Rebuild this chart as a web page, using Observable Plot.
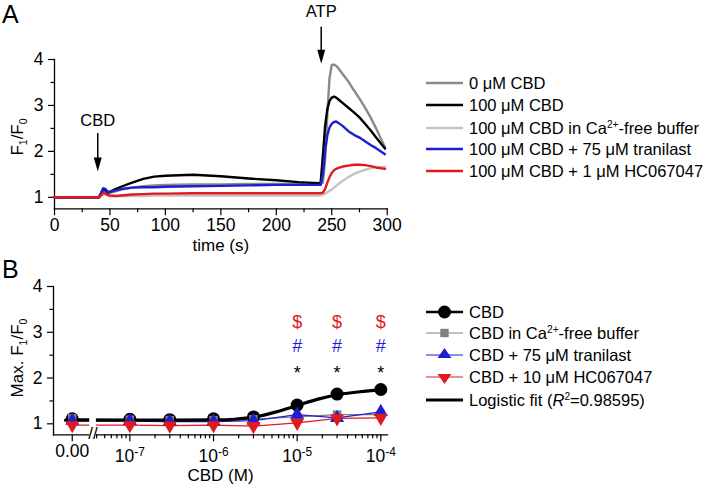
<!DOCTYPE html>
<html><head><meta charset="utf-8">
<script src="https://cdn.jsdelivr.net/npm/d3@7"></script>
<script src="https://cdn.jsdelivr.net/npm/@observablehq/plot@0.6"></script>
<style>
body{margin:0;background:#fff;}
#fig{position:relative;width:709px;height:488px;font-family:'Liberation Sans',Arial,Helvetica,sans-serif;color:#000;overflow:hidden;background:#fff;}
.letter{position:absolute;font-size:25px;line-height:28px;}
.leg{position:absolute;left:426px;font-size:16.5px;line-height:20px;white-space:nowrap;display:flex;align-items:center;height:20px;}
.leg svg{margin-right:6px;flex:none;}
.ytitle{position:absolute;transform:translate(-50%,-50%) rotate(-90deg);font-size:17px;white-space:nowrap;line-height:20px;}
sub,sup{font-size:0.62em;line-height:0;}
</style>
</head><body>
<div id="fig"></div>
<script>
// ---------- Panel A data ----------
const timeS = [0,20,40,42,44,46,48,50,55,60,70,80,90,100,125,150,175,200,220,238,240,242,244,246,248,250,252,254,256,260,265,270,275,280,285,290,298];
const a_cbd0      = [1.00,1.00,1.00,1.06,1.15,1.14,1.10,1.10,1.13,1.17,1.21,1.24,1.26,1.27,1.28,1.28,1.29,1.29,1.29,1.29,1.30,1.32,1.80,2.80,3.60,3.88,3.89,3.86,3.81,3.68,3.52,3.33,3.15,2.95,2.74,2.50,2.09];
const a_cbd100    = [1.00,1.00,1.00,1.08,1.18,1.15,1.10,1.12,1.18,1.23,1.32,1.40,1.45,1.47,1.49,1.46,1.41,1.37,1.33,1.31,1.32,1.90,2.55,2.92,3.10,3.17,3.19,3.17,3.13,3.05,2.95,2.85,2.74,2.60,2.46,2.30,2.06];
const a_caFree    = [1.00,1.00,1.00,1.03,1.07,1.06,1.04,1.03,1.02,1.02,1.03,1.03,1.04,1.04,1.04,1.04,1.04,1.04,1.04,1.04,1.04,1.05,1.08,1.11,1.14,1.17,1.21,1.25,1.29,1.36,1.44,1.51,1.56,1.60,1.63,1.65,1.66];
const a_tranilast = [1.00,1.00,1.00,1.10,1.20,1.18,1.12,1.12,1.15,1.18,1.21,1.22,1.22,1.23,1.24,1.25,1.26,1.27,1.27,1.27,1.27,1.50,2.00,2.35,2.52,2.60,2.64,2.65,2.62,2.55,2.44,2.36,2.30,2.22,2.14,2.07,1.94];
const a_hc        = [1.00,1.00,1.00,1.04,1.10,1.08,1.05,1.04,1.03,1.04,1.06,1.07,1.08,1.08,1.09,1.09,1.09,1.09,1.09,1.09,1.09,1.10,1.18,1.32,1.44,1.53,1.59,1.62,1.64,1.67,1.69,1.71,1.71,1.70,1.68,1.65,1.62];
const legendA = ["0 μM CBD","100 μM CBD","100 μM CBD in Ca<sup>2+</sup>-free buffer","100 μM CBD + 75 μM tranilast","100 μM CBD + 1 μM HC067047"];
const colorsA = ["#8a8a8a","#000000","#c4c4c4","#1e1ed2","#e01a1e"];
const xTicksA = [0,50,100,150,200,250,300];
const xMinorA = [25,75,125,175,225,275];
const yTicks = [1,2,3,4];
const yMinor = [1.5,2.5,3.5];
const eventsA = ["CBD","ATP"];
const eventTimes = [39,240.5];

// ---------- Panel B data ----------
const concB = [0,1e-7,3e-7,1e-6,3e-6,1e-5,3e-5,1e-4];
const b_cbd       = [1.11,1.10,1.09,1.11,1.15,1.41,1.65,1.75];
const b_caFree    = [1.12,1.09,1.08,1.08,1.10,1.15,1.20,1.20];
const b_tranilast = [1.07,1.06,1.05,1.05,1.07,1.20,1.13,1.26];
const b_hc        = [0.97,0.97,0.96,0.97,0.95,1.02,1.12,1.13];
const fitLogC = [-7.77,-7.69,-7.0,-6.5,-6.0,-5.75,-5.5,-5.25,-5.0,-4.75,-4.5,-4.25,-4.0];
const fitVal  = [1.08,1.08,1.08,1.08,1.085,1.10,1.15,1.26,1.40,1.54,1.64,1.70,1.74];
const sigConc = [1e-5,3e-5,1e-4];
const sigSymbols = ["$","#","*"];
const sigColors = ["#e01a1e","#1e1ed2","#000000"];
const sigLevels = [3.21,2.70,2.11];
const xTickLabelsB = ["0.00","10^-7","10^-6","10^-5","10^-4"];
const legendB = ["CBD","CBD in Ca<sup>2+</sup>-free buffer","CBD + 75 μM tranilast","CBD + 10 μM HC067047","Logistic fit (<i>R</i><sup>2</sup>=0.98595)"];
const colorsB = ["#000000","#808080","#1e1ed2","#e01a1e","#000000"];

const FONT = "'Liberation Sans', Arial, Helvetica, sans-serif";
const ZERO_POS = -7.689;   // axis position of the 0.00 category (broken axis)
const BREAK = [-7.48,-7.40];
const xposB = c => c === 0 ? ZERO_POS : Math.log10(c);

// custom symbols
const arrowHead = {draw(ctx){ ctx.moveTo(0,7); ctx.lineTo(4,-7); ctx.lineTo(-4,-7); ctx.closePath(); }};
const triDown = {draw(ctx,size){ const s=Math.sqrt(size*4/Math.sqrt(3)), h=s*Math.sqrt(3)/2; ctx.moveTo(0,2*h/3); ctx.lineTo(s/2,-h/3); ctx.lineTo(-s/2,-h/3); ctx.closePath(); }};
const triUp = {draw(ctx,size){ const s=Math.sqrt(size*4/Math.sqrt(3)), h=s*Math.sqrt(3)/2; ctx.moveTo(0,-2*h/3); ctx.lineTo(s/2,h/3); ctx.lineTo(-s/2,h/3); ctx.closePath(); }};

const fig = document.getElementById("fig");
const intFmt = d => String(Math.round(d));

// ---------- Panel A ----------
const seriesA = [a_cbd0,a_cbd100,a_caFree,a_tranilast,a_hc];
const drawOrderA = [2,0,1,3,4];
const linesA = drawOrderA.map(k => Plot.line(timeS.map((t,i)=>({t, v: seriesA[k][i]})), {x:"t", y:"v", stroke: colorsA[k], strokeWidth: 2.4, strokeLinejoin:"round"}));
const evText = [2.675, 5.033], evShaft1=[2.40,4.712], evShaft2=[1.845,4.20], evHead=[1.714,4.061];
const evData = eventsA.map((e,i)=>({e, t: eventTimes[i], yt: evText[i], y1: evShaft1[i], y2: evShaft2[i], yh: evHead[i]}));

const pA = Plot.plot({
  width: 400, height: 250,
  marginLeft: 54, marginRight: 13.3, marginTop: 59, marginBottom: 41.7,
  x: {domain: [0,300]}, y: {domain: [0.75,4]},
  style: {fontFamily: FONT, fontSize: "17px", background: "transparent", overflow: "visible", color: "#000"},
  marks: [
    Plot.axisX({ticks: xTicksA, tickSize: 7, tickPadding: 3, label: null, fontSize: 17.5, strokeWidth: 1.2, tickFormat: intFmt}),
    Plot.axisX({ticks: xMinorA, tickSize: 4, tickFormat: () => "", label: null, strokeWidth: 1.2}),
    Plot.axisY({ticks: yTicks, tickSize: 6, tickPadding: 5, label: null, fontSize: 17.5, strokeWidth: 1.2, tickFormat: intFmt}),
    Plot.axisY({ticks: yMinor, tickSize: 3.5, tickFormat: () => "", label: null, strokeWidth: 1.2}),
    Plot.frame({anchor: "left", strokeWidth: 1.3}),
    Plot.frame({anchor: "bottom", strokeWidth: 1.3}),
    ...linesA,
    Plot.text(evData, {x: "t", y: "yt", text: "e", fontSize: 16.5}),
    Plot.link(evData, {x1: "t", x2: "t", y1: "y1", y2: "y2", stroke: "#000", strokeWidth: 1.5}),
    Plot.dot(evData, {x: "t", y: "yh", symbol: arrowHead, fill: "#000", stroke: "none"}),
    Plot.text(["time (s)"], {frameAnchor: "bottom", lineAnchor: "middle", dy: 37, fontSize: 17})
  ]
});
pA.style.position = "absolute"; pA.style.left = "0px"; pA.style.top = "0px";
fig.appendChild(pA);

// ---------- Panel B ----------
const rowsB = arr => concB.map((c,i)=>({x: xposB(c), v: arr[i]}));
const minorB = [];
for (const d of [-8,-7,-6,-5]) for (let k=2;k<=9;k++){ const v=Math.log10(k*Math.pow(10,d)); if (v > BREAK[1] && v < -4) minorB.push(v); }
const majorB = [ZERO_POS,-7,-6,-5,-4];
const sigData = [];
sigSymbols.forEach((s,j)=> sigConc.forEach(c => sigData.push({x: Math.log10(c), y: sigLevels[j], s, color: sigColors[j]})));

const pB = Plot.plot({
  width: 400, height: 238,
  marginLeft: 53, marginRight: 13, marginTop: 36, marginBottom: 53.7,
  x: {domain: [-7.913,-3.92]}, y: {domain: [0.76,4]},
  style: {fontFamily: FONT, fontSize: "17px", background: "transparent", overflow: "visible", color: "#000"},
  marks: [
    Plot.axisX({ticks: majorB, tickSize: 7, tickPadding: 2.5, label: null, fontSize: 17.5, strokeWidth: 1.2,
      tickFormat: d => xTickLabelsB[majorB.indexOf(d)]}),
    Plot.axisX({ticks: minorB, tickSize: 4, tickFormat: () => "", label: null, strokeWidth: 1.2}),
    Plot.axisY({ticks: yTicks, tickSize: 6, tickPadding: 5, label: null, fontSize: 17.5, strokeWidth: 1.2, tickFormat: intFmt}),
    Plot.axisY({ticks: yMinor, tickSize: 3.5, tickFormat: () => "", label: null, strokeWidth: 1.2}),
    Plot.frame({anchor: "left", strokeWidth: 1.3}),
    Plot.frame({anchor: "bottom", strokeWidth: 1.3}),
    Plot.line(rowsB(b_caFree), {x:"x", y:"v", stroke: colorsB[1], strokeWidth: 1.2}),
    Plot.line(rowsB(b_tranilast), {x:"x", y:"v", stroke: colorsB[2], strokeWidth: 1.2}),
    Plot.line(rowsB(b_hc), {x:"x", y:"v", stroke: colorsB[3], strokeWidth: 1.2}),
    Plot.line(fitLogC.map((x,i)=>({x, v: fitVal[i]})), {x:"x", y:"v", stroke: "#000", strokeWidth: 3.2, curve: "monotone-x"}),
    Plot.rect([BREAK], {x1: d=>d[0], x2: d=>d[1], y1: 0.70, y2: 1.35, fill: "#fff"}),
    Plot.text([{x: (BREAK[0]+BREAK[1])/2}], {x: "x", y: 0.76, text: () => "//", fontSize: 17, dy: -1}),
    Plot.dot(rowsB(b_cbd), {x:"x", y:"v", r: 6.5, fill: "#000", stroke: "none"}),
    Plot.dot(rowsB(b_caFree), {x:"x", y:"v", r: 4.8, symbol: "square", fill: colorsB[1], stroke: "none"}),
    Plot.dot(rowsB(b_tranilast), {x:"x", y:"v", r: 5.2, symbol: triUp, fill: colorsB[2], stroke: "none"}),
    Plot.dot(rowsB(b_hc), {x:"x", y:"v", r: 5.2, symbol: triDown, fill: colorsB[3], stroke: "none"}),
    Plot.text(sigData, {x:"x", y:"y", text:"s", fill:"color", fontSize: 18}),
    Plot.text(["CBD (M)"], {frameAnchor: "bottom", lineAnchor: "middle", dy: 41, fontSize: 17})
  ]
});
pB.style.position = "absolute"; pB.style.left = "0px"; pB.style.top = "250px";
fig.appendChild(pB);

// superscript exponents in tick labels
pB.querySelectorAll("text").forEach(t => {
  const s = t.textContent;
  if (s.includes("^")) {
    const [base, exp] = s.split("^");
    t.textContent = "";
    const ns = "http://www.w3.org/2000/svg";
    const a = document.createElementNS(ns,"tspan"); a.textContent = base; a.setAttribute("dy","0.3em");
    const b = document.createElementNS(ns,"tspan"); b.textContent = exp; b.setAttribute("dy","-0.5em"); b.setAttribute("font-size","0.68em");
    t.appendChild(a); t.appendChild(b);
  }
});

// ---------- HTML text: panel letters, y titles, legends ----------
function addDiv(cls, html, left, top){ const d=document.createElement("div"); d.className=cls; d.innerHTML=html; d.style.left=left+"px"; d.style.top=top+"px"; fig.appendChild(d); return d; }
addDiv("letter","A",2,0);
addDiv("letter","B",2,255);
addDiv("ytitle","F<sub>1</sub>/F<sub>0</sub>",18,137);
addDiv("ytitle","Max. F<sub>1</sub>/F<sub>0</sub>",18,358);

function swatch(color, lw, marker, mcolor){
  let m = "";
  if (marker==="circle") m = `<circle cx="18.5" cy="10" r="6.5" fill="${mcolor}"/>`;
  if (marker==="square") m = `<rect x="14.3" y="5.8" width="8.4" height="8.4" fill="${mcolor}"/>`;
  if (marker==="up") m = `<path d="M18.5,3L25.5,13L11.5,13Z" fill="${mcolor}"/>`;
  if (marker==="down") m = `<path d="M18.5,17L25.5,7L11.5,7Z" fill="${mcolor}"/>`;
  return `<svg width="37" height="20"><line x1="0" x2="37" y1="10" y2="10" stroke="${color}" stroke-width="${lw}"/>${m}</svg>`;
}
const legARows = [83.3,104.5,127.5,149.3,170.7];
legendA.forEach((txt,i)=> addDiv("leg", swatch(colorsA[i],2.4) + `<span>${txt}</span>`, 426, legARows[i]-10));
const markersB = ["circle","square","up","down",null];
const lwB = [2.4,1.2,1.2,1.2,2.8];
const legBRows = [311.5,333.3,355,376.7,399.5];
legendB.forEach((txt,i)=> addDiv("leg", swatch(colorsB[i],lwB[i],markersB[i],colorsB[i]) + `<span>${txt}</span>`, 426, legBRows[i]-10));
</script>
</body></html>
